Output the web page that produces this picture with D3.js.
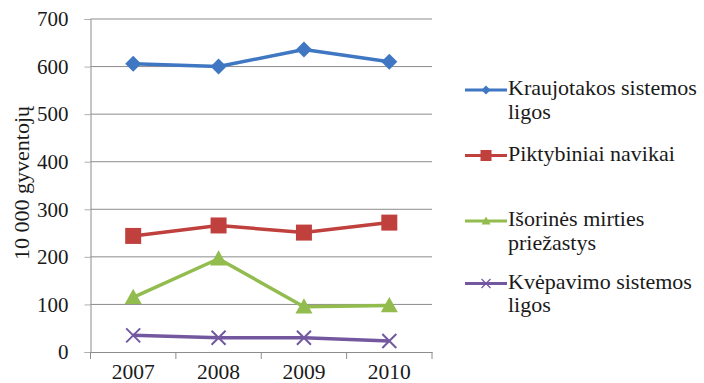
<!DOCTYPE html>
<html>
<head>
<meta charset="utf-8">
<script src="https://cdn.jsdelivr.net/npm/d3@7"></script>
<style>
  html, body { margin: 0; padding: 0; background: #fff; }
  svg { display: block; }
</style>
</head>
<body>
<svg id="chart" width="704" height="383"></svg>
<script>
// Mortality by cause, per 10 000 inhabitants
const years = ["2007", "2008", "2009", "2010"];
const kraujotakos = [606, 600, 636, 610];
const piktybiniai = [244, 266, 251, 272];
const isorines = [115, 196, 95, 98];
const kvepavimo = [35, 30, 30, 23];
const yTicks = [0, 100, 200, 300, 400, 500, 600, 700];
const seriesNames = [
  ["Kraujotakos sistemos", "ligos"],
  ["Piktybiniai navikai"],
  ["Išorinės mirties", "priežastys"],
  ["Kvėpavimo sistemos", "ligos"]
];

const FONT = "'Liberation Serif', Tinos, 'Times New Roman', serif";

const series = [
  { name: seriesNames[0], values: kraujotakos, color: "#3f77c2", marker: "diamond" },
  { name: seriesNames[1], values: piktybiniai, color: "#c0403d", marker: "square" },
  { name: seriesNames[2], values: isorines, color: "#92bc4e", marker: "triangle" },
  { name: seriesNames[3], values: kvepavimo, color: "#7358a0", marker: "cross" }
];

const svg = d3.select("#chart");
const plot = { left: 90.5, right: 432, top: 19, bottom: 352 };

const x = d3.scaleBand().domain(years).range([plot.left, plot.right]);
const y = d3.scaleLinear().domain([0, 700]).range([plot.bottom, plot.top]);

// horizontal gridlines
svg.append("g")
  .selectAll("line")
  .data(yTicks.filter(d => d > 0))
  .join("line")
  .attr("x1", plot.left).attr("x2", plot.right)
  .attr("y1", d => y(d)).attr("y2", d => y(d))
  .attr("stroke", "#8c8c8c").attr("stroke-width", 1);

// y axis
const yAxis = svg.append("g")
  .attr("transform", `translate(${plot.left},0)`)
  .call(d3.axisLeft(y).tickValues(yTicks).tickSize(6).tickPadding(16));
yAxis.attr("font-family", FONT).attr("font-size", 21);
yAxis.select(".domain").attr("stroke", "#8c8c8c");
yAxis.selectAll(".tick line").attr("stroke", "#b0b0b0");
yAxis.selectAll("text").attr("fill", "#1a1a1a");

// x axis with ticks at category boundaries
const xAxis = svg.append("g")
  .attr("transform", `translate(0,${plot.bottom})`)
  .call(d3.axisBottom(x).tickSize(0).tickPadding(11.5));
xAxis.attr("font-family", FONT).attr("font-size", 21.5);
xAxis.select(".domain").attr("stroke", "#8c8c8c");
xAxis.selectAll("text").attr("fill", "#1a1a1a");
const bounds = years.map(d => x(d)).concat([x(years[years.length - 1]) + x.bandwidth()]);
svg.append("g").selectAll("line").data(bounds).join("line")
  .attr("x1", d => d).attr("x2", d => d)
  .attr("y1", plot.bottom).attr("y2", plot.bottom + 7)
  .attr("stroke", "#8c8c8c");

// y axis title
svg.append("text")
  .attr("transform", `translate(29,183) rotate(-90)`)
  .attr("text-anchor", "middle")
  .attr("font-family", FONT)
  .attr("font-size", 22)
  .attr("fill", "#1a1a1a")
  .text("10 000 gyventojų");

function markerPath(type, s) {
  const h = s / 2;
  switch (type) {
    case "diamond": return `M0,${-h}L${h},0L0,${h}L${-h},0Z`;
    case "square": return `M${-h},${-h}H${h}V${h}H${-h}Z`;
    case "triangle": return `M0,${-h}L${h},${h * 0.8}H${-h}Z`;
    case "cross": return `M${-h},${-h}L${h},${h}M${h},${-h}L${-h},${h}`;
  }
}
const markerSize = { diamond: 16, square: 16, triangle: 17, cross: 14 };

const line = d3.line()
  .x((d, i) => x(years[i]) + x.bandwidth() / 2)
  .y(d => y(d));

series.forEach(s => {
  const g = svg.append("g");
  g.append("path")
    .attr("d", line(s.values))
    .attr("fill", "none")
    .attr("stroke", s.color)
    .attr("stroke-width", 3.5)
    .attr("stroke-linejoin", "round");
  g.selectAll("path.m")
    .data(s.values)
    .join("path")
    .attr("class", "m")
    .attr("transform", (d, i) => `translate(${x(years[i]) + x.bandwidth() / 2},${y(d)})`)
    .attr("d", markerPath(s.marker, markerSize[s.marker]))
    .attr("fill", s.marker === "cross" ? "none" : s.color)
    .attr("stroke", s.color)
    .attr("stroke-width", s.marker === "cross" ? 2 : 0);
});

// legend
const legendY = [90, 155.5, 221, 283.5];
series.forEach((s, i) => {
  const g = svg.append("g").attr("transform", `translate(0,${legendY[i]})`);
  g.append("line")
    .attr("x1", 465).attr("x2", 507)
    .attr("stroke", s.color).attr("stroke-width", 3);
  g.append("path")
    .attr("transform", "translate(486,0)")
    .attr("d", markerPath(s.marker, s.marker === "square" ? 11 : 9))
    .attr("fill", s.marker === "cross" ? "none" : s.color)
    .attr("stroke", s.color)
    .attr("stroke-width", s.marker === "cross" ? 1.2 : 0);
  s.name.forEach((t, k) => {
    g.append("text")
      .attr("x", 508)
      .attr("y", 5 + k * 23.5)
      .attr("font-family", FONT)
      .attr("font-size", 22)
      .attr("fill", "#1a1a1a")
      .text(t);
  });
});
</script>
</body>
</html>
